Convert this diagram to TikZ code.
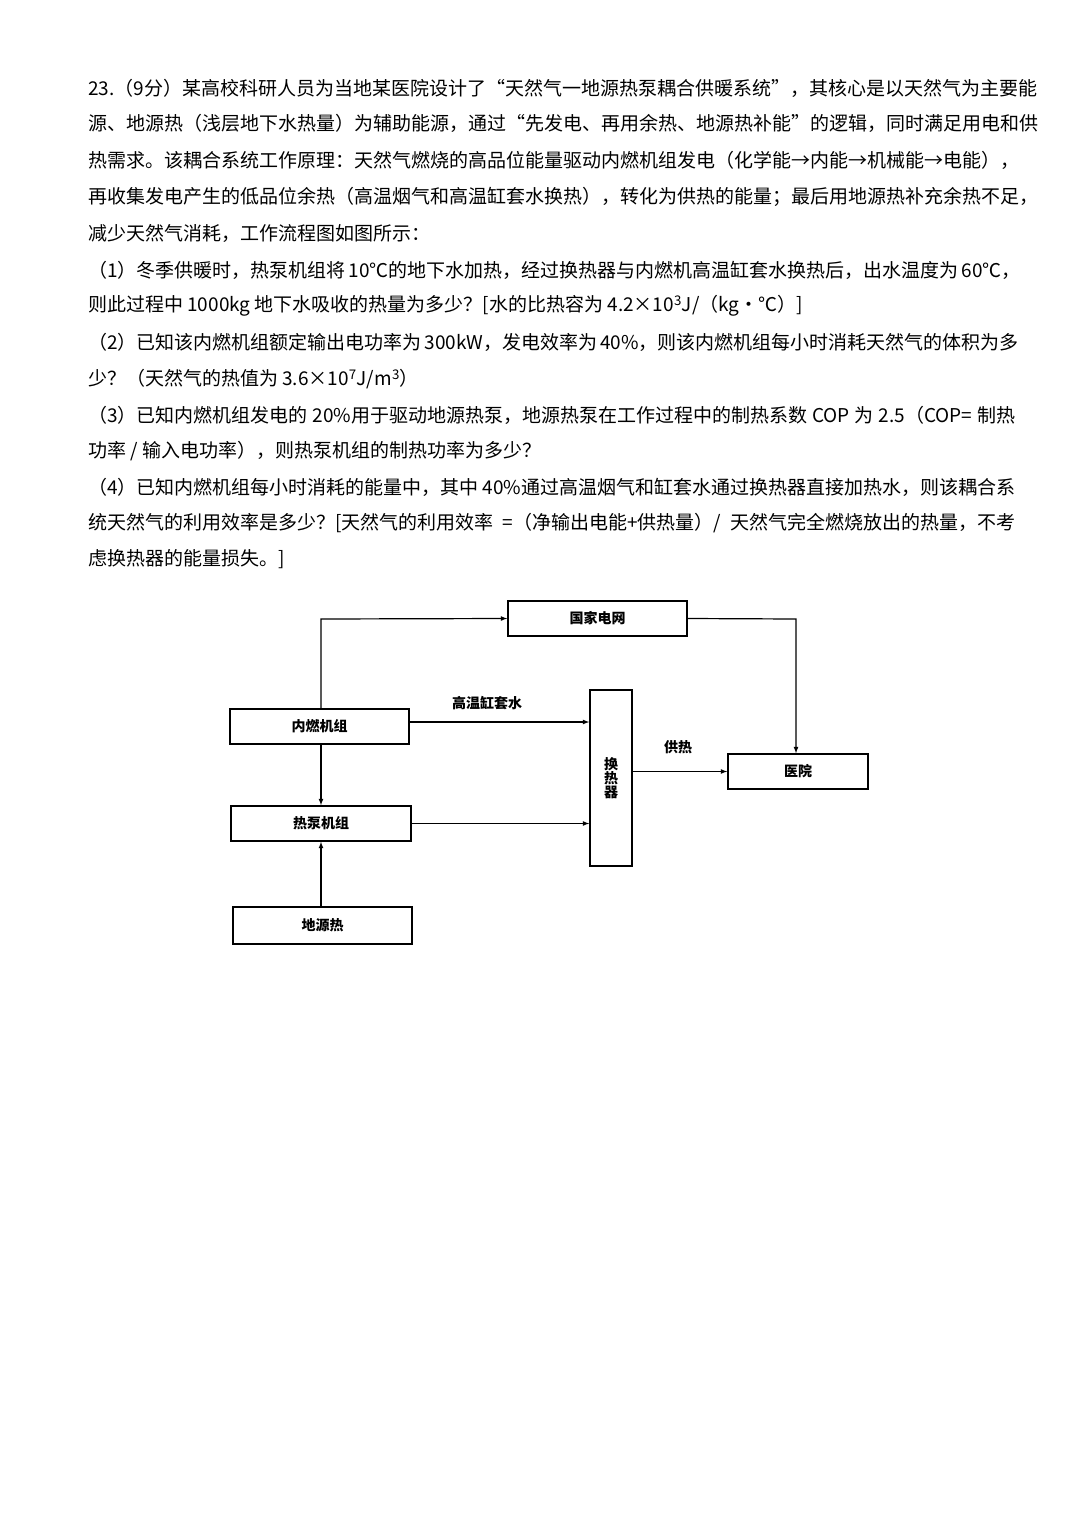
\documentclass[tikz,border=0pt]{standalone}
\usepackage{fontspec}
\setmainfont{Noto Sans CJK SC}
\XeTeXlinebreaklocale "zh"
\XeTeXlinebreakskip = 0pt plus 2pt
\begin{document}
\begin{tikzpicture}[x=1pt,y=-1pt,
  txt/.style={anchor=west,inner sep=0pt,font=\fontsize{19}{19}\selectfont},
  box/.style={draw,line width=1.6pt,inner sep=0pt,font=\fontsize{14}{14}\selectfont\bfseries},
  lab/.style={inner sep=0pt,font=\fontsize{14}{14}\selectfont\bfseries},
  arr/.style={-latex,line width=1.2pt}]
\fill[white] (0,0) rectangle (1080,1517);
\useasboundingbox (0,0) rectangle (1080,1517);
\newcommand\fl[1]{\makebox[927pt][s]{#1}}
\node[txt] (l1) at (88,88) {\fl{23.（9分）某高校科研人员为当地某医院设计了“天然气一地源热泵耦合供暖系统”，其核心是以天然气为主要能}};
\node[txt] (l2) at (88,123) {\fl{源、地源热（浅层地下水热量）为辅助能源，通过“先发电、再用余热、地源热补能”的逻辑，同时满足用电和供}};
\node[txt] (l3) at (88,160) {\fl{热需求。该耦合系统工作原理：天然气燃烧的高品位能量驱动内燃机组发电（化学能→内能→机械能→电能），}};
\node[txt] (l4) at (88,197) {\fl{再收集发电产生的低品位余热（高温烟气和高温缸套水换热），转化为供热的能量；最后用地源热补充余热不足，}};
\node[txt] (l5) at (88,233) {减少天然气消耗，工作流程图如图所示：};
\node[txt] (l6) at (88,270) {\fl{（1）冬季供暖时，热泵机组将 10℃的地下水加热，经过换热器与内燃机高温缸套水换热后，出水温度为 60℃，}};
\node[txt] (l7) at (88,306) {则此过程中 1000kg 地下水吸收的热量为多少？[水的比热容为 4.2×10\textsuperscript{3}J/（kg·℃）]};
\node[txt] (l8) at (88,342) {\fl{（2）已知该内燃机组额定输出电功率为 300kW，发电效率为 40\%，则该内燃机组每小时消耗天然气的体积为多}};
\node[txt] (l9) at (88,379) {少？（天然气的热值为 3.6×10\textsuperscript{7}J/m\textsuperscript{3}）};
\node[txt] (l10) at (88,415) {\fl{（3）已知内燃机组发电的 20\%用于驱动地源热泵，地源热泵在工作过程中的制热系数 COP 为 2.5（COP= 制热}};
\node[txt] (l11) at (88,451) {功率 / 输入电功率），则热泵机组的制热功率为多少？};
\node[txt] (l12) at (88,487) {\fl{（4）已知内燃机组每小时消耗的能量中，其中 40\%通过高温烟气和缸套水通过换热器直接加热水，则该耦合系}};
\node[txt] (l13) at (88,523) {\fl{统天然气的利用效率是多少？[天然气的利用效率 =（净输出电能+供热量）/ 天然气完全燃烧放出的热量，不考}};
\node[txt] (l14) at (88,559) {虑换热器的能量损失。]};

\node[box,minimum width=179pt,minimum height=35pt] (grid) at (597.5,618.5) {国家电网};
\node[box,minimum width=179pt,minimum height=35pt] (ice) at (319.5,726.5) {内燃机组};
\node[box,minimum width=180pt,minimum height=35pt] (hp) at (321,823.5) {热泵机组};
\node[box,minimum width=179pt,minimum height=37pt] (geo) at (322.5,925.5) {地源热};
\node[box,minimum width=42pt,minimum height=176pt,align=center] (hx) at (611,778) {换\\热\\器};
\node[box,minimum width=140pt,minimum height=35pt] (hosp) at (798,771.5) {医院};
\coordinate (c1) at (321,619);
\coordinate (c2) at (796,619);
\draw[arr] (ice.north -| c1) -- (c1) -- (grid.west);
\draw[arr] (grid.east) -- (c2) -- (hosp.north -| c2);
\draw[arr] (ice.east |- 0,722) -- (hx.west |- 0,722);
\node[lab] (l_hw) at (487,703) {高温缸套水};
\draw[arr] (ice.south -| c1) -- (hp.north -| c1);
\draw[arr] (hp.east) -- (hx.west |- hp.east);
\draw[arr] (geo.north -| c1) -- (hp.south -| c1);
\draw[arr] (hx.east |- hosp.west) -- (hosp.west);
\node[lab] (l_sup) at (678,747) {供热};
\end{tikzpicture}
\end{document}
